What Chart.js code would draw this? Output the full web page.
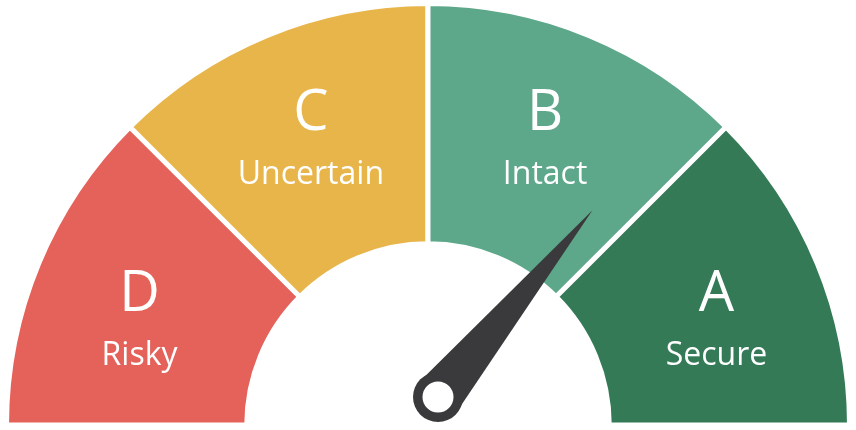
<!DOCTYPE html>
<html>
<head>
<meta charset="utf-8">
<script src="https://cdn.jsdelivr.net/npm/chart.js@4"></script>
<style>
  html, body { margin: 0; padding: 0; background: #ffffff; }
  #wrap { width: 856px; height: 430px; position: relative; }
</style>
</head>
<body>
<div id="wrap"><canvas id="gauge"></canvas></div>
<script>
// Gauge bands, left to right
const grades = ["D", "C", "B", "A"];
const gradeNames = ["Risky", "Uncertain", "Intact", "Secure"];
const bandSizes = [1, 1, 1, 1];
const bandColors = ["#E4625A", "#E8B54B", "#5DA78A", "#357A57"];

// Needle reading on the 0..4 scale (D=0-1, C=1-2, B=2-3, A=3-4)
const needleValue = 2.88;

// small angle nudge (degrees) for each label, side labels sit a bit lower
const labelShift = [-3, 0, 0, 3];

// Draws grade labels and the needle on top of the arcs
const gaugeDecor = {
  id: "gaugeDecor",
  afterDatasetsDraw(chart) {
    const ctx = chart.ctx;
    const meta = chart.getDatasetMeta(0);
    const arc0 = meta.data[0];
    const cx = arc0.x, cy = arc0.y;
    const outer = arc0.outerRadius;

    // labels
    ctx.save();
    ctx.fillStyle = "#ffffff";
    ctx.textAlign = "center";
    ctx.textBaseline = "middle";
    meta.data.forEach((arc, i) => {
      const mid = (arc.startAngle + arc.endAngle) / 2 + labelShift[i] * Math.PI / 180;
      const r = outer * 0.726;
      const x = cx + Math.cos(mid) * r;
      const y = cy + Math.sin(mid) * r;
      ctx.font = "56px 'Open Sans', sans-serif";
      ctx.fillText(grades[i], x, y - 28);
      ctx.font = "32px 'Open Sans', sans-serif";
      ctx.fillText(gradeNames[i], x, y + 33);
    });
    ctx.restore();

    // needle
    const total = bandSizes.reduce((a, b) => a + b, 0);
    const angle = Math.PI + (needleValue / total) * Math.PI;
    const px = cx + 10, py = cy - 28;
    const len = outer * 0.575;
    const tx = px + Math.cos(angle) * len;
    const ty = py + Math.sin(angle) * len;
    const nx = -Math.sin(angle), ny = Math.cos(angle);
    const half = 24;

    ctx.save();
    ctx.fillStyle = "#3A3A3C";
    ctx.beginPath();
    ctx.moveTo(px + nx * half, py + ny * half);
    ctx.lineTo(tx, ty);
    ctx.lineTo(px - nx * half, py - ny * half);
    ctx.closePath();
    ctx.fill();
    ctx.beginPath();
    ctx.arc(px, py, 25, 0, Math.PI * 2);
    ctx.fill();
    ctx.fillStyle = "#ffffff";
    ctx.beginPath();
    ctx.arc(px, py, 15.5, 0, Math.PI * 2);
    ctx.fill();
    ctx.restore();
  }
};

new Chart(document.getElementById("gauge"), {
  type: "doughnut",
  data: {
    labels: gradeNames,
    datasets: [{
      data: bandSizes,
      backgroundColor: bandColors,
      borderColor: "#ffffff",
      borderWidth: 5,
      hoverOffset: 0
    }]
  },
  options: {
    responsive: true,
    maintainAspectRatio: false,
    animation: false,
    rotation: -90,
    circumference: 180,
    cutout: "43%",
    layout: { padding: { left: 4, right: 4, top: 1, bottom: 2.5 } },
    plugins: {
      legend: { display: false },
      tooltip: { enabled: false }
    }
  },
  plugins: [gaugeDecor]
});
</script>
</body>
</html>
